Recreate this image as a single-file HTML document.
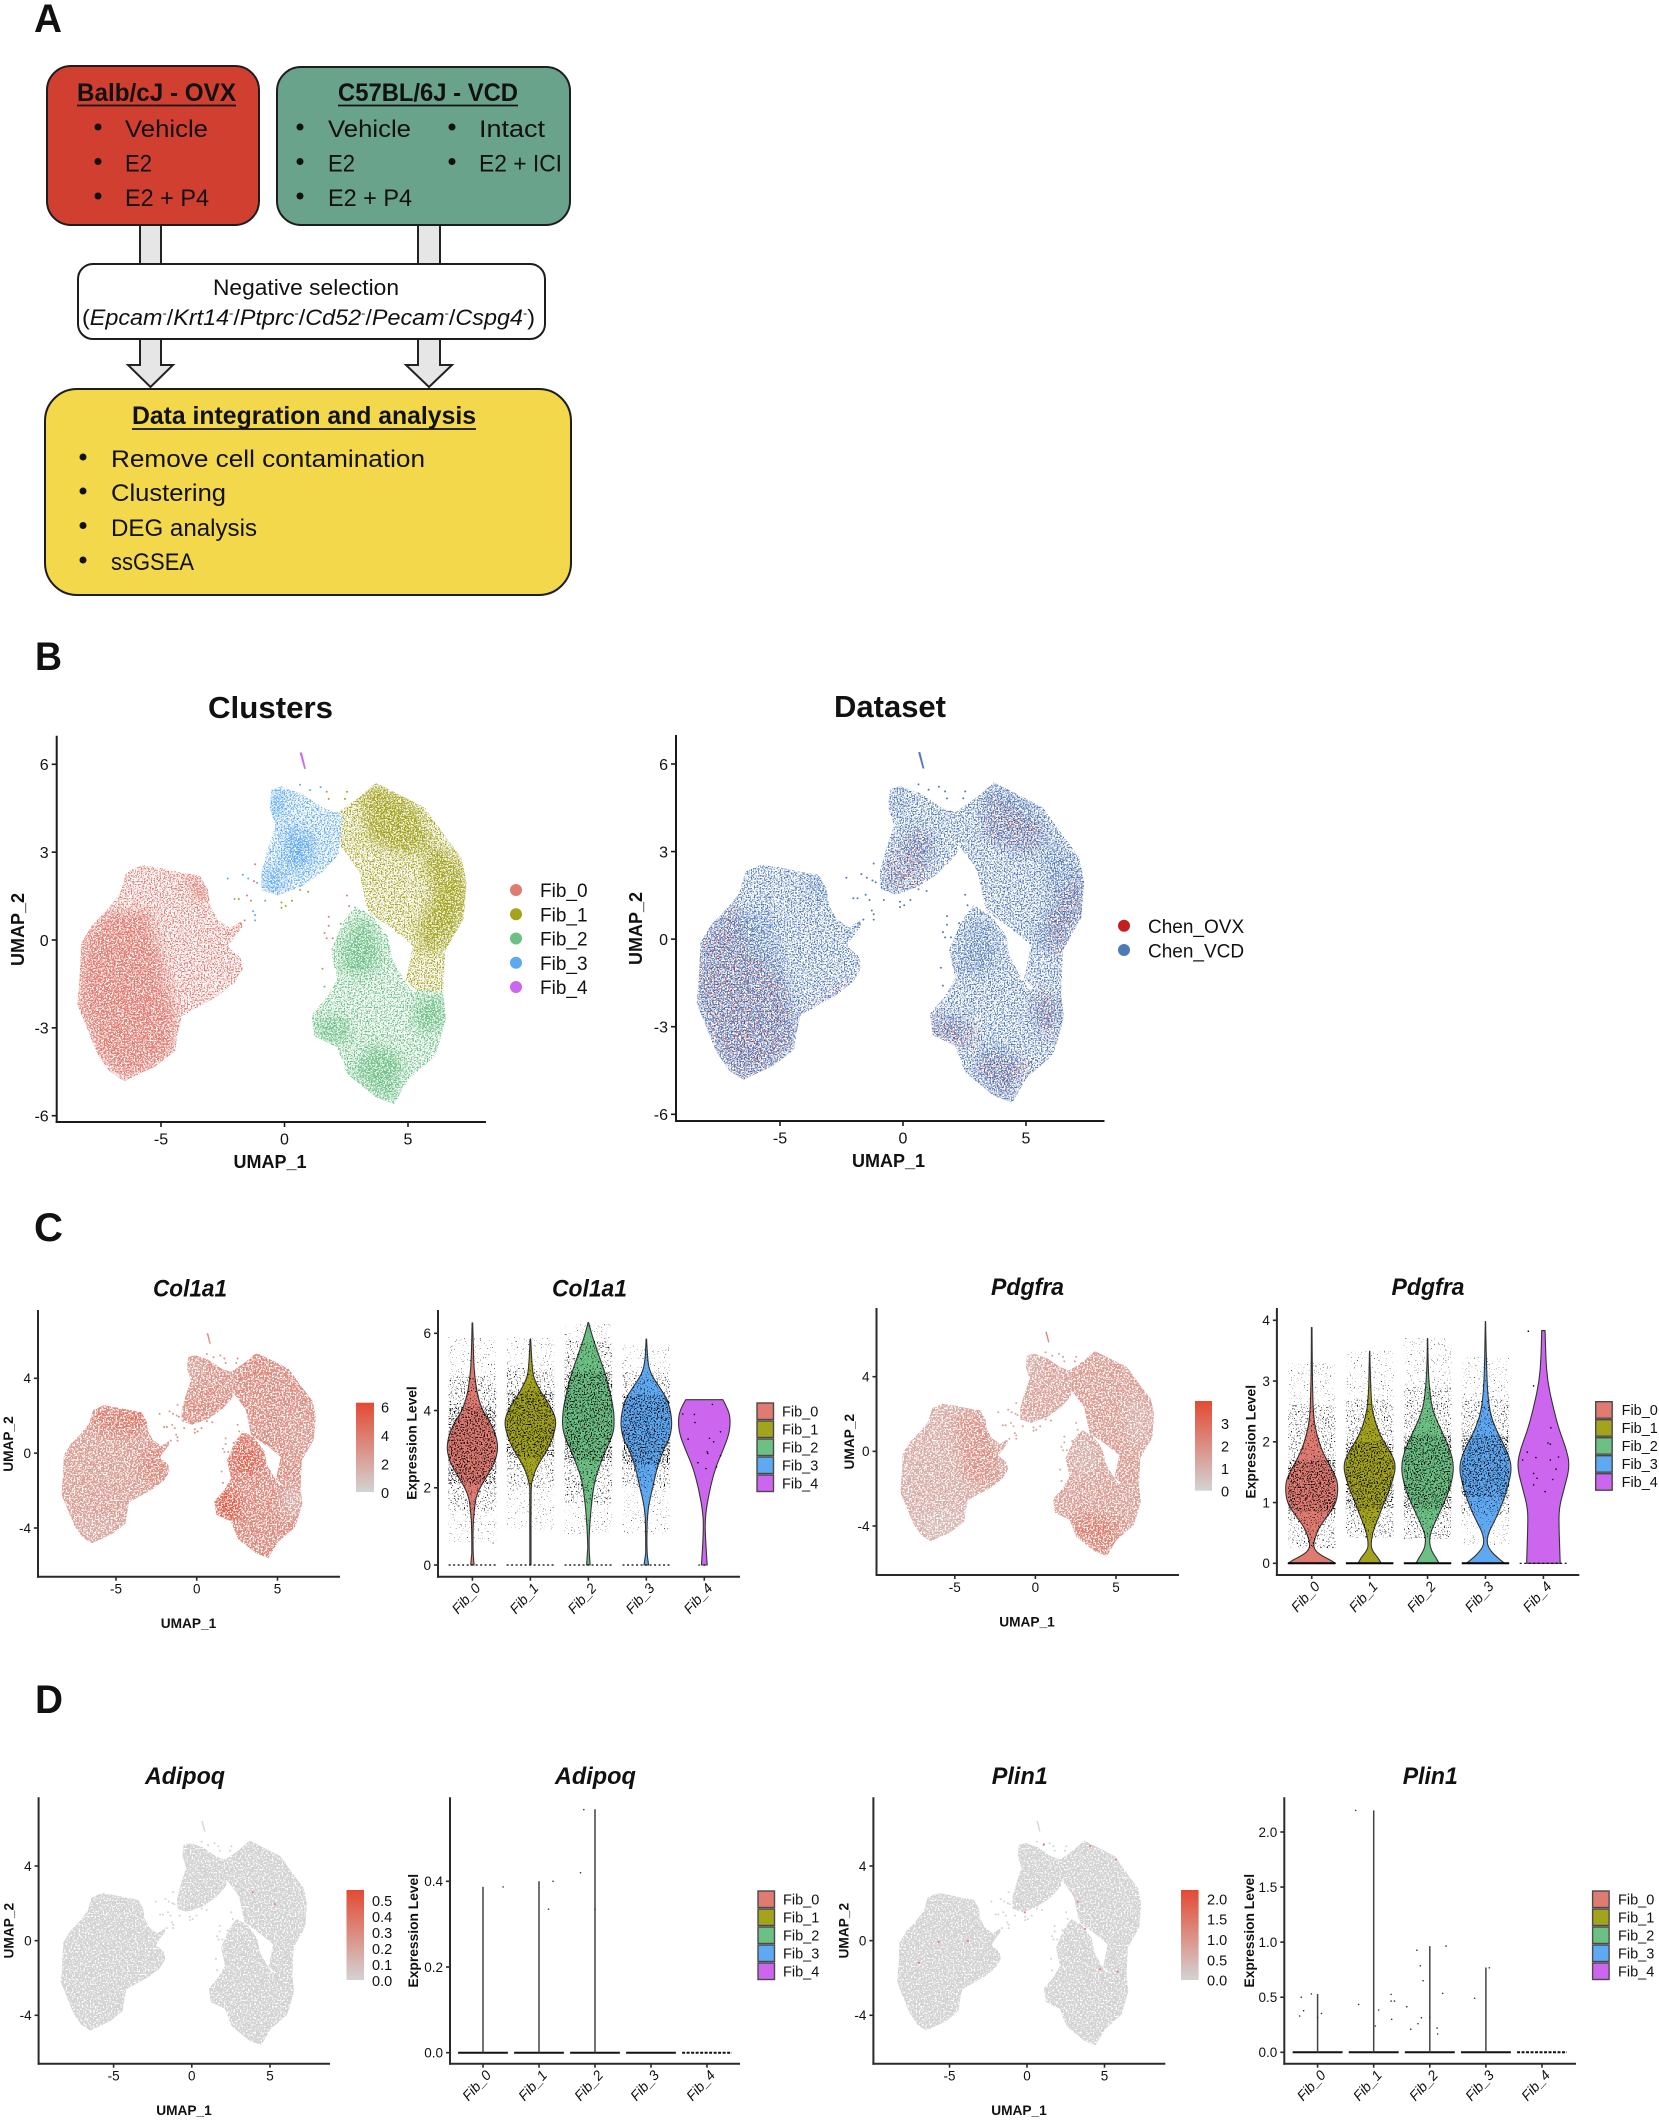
<!DOCTYPE html>
<html lang="en">
<head>
<meta charset="utf-8">
<title>Fibroblast single-cell analysis figure</title>
<style>
html,body{margin:0;padding:0;background:#fff;}
svg{display:block;font-family:"Liberation Sans",sans-serif;}
</style>
</head>
<body>
<svg id="figure" width="1659" height="2121" viewBox="0 0 1659 2121">
<defs>
<filter id="speck40" color-interpolation-filters="sRGB"><feTurbulence type="fractalNoise" baseFrequency="0.62" numOctaves="2" seed="4"/><feColorMatrix type="matrix" values="0 0 0 0 0 0 0 0 0 0 0 0 0 0 0 0 0 0 10 -4.0" result="m"/><feComposite in="SourceGraphic" in2="m" operator="in"/></filter>
<filter id="speck36" color-interpolation-filters="sRGB"><feTurbulence type="fractalNoise" baseFrequency="0.62" numOctaves="2" seed="11"/><feColorMatrix type="matrix" values="0 0 0 0 0 0 0 0 0 0 0 0 0 0 0 0 0 0 10 -3.6" result="m"/><feComposite in="SourceGraphic" in2="m" operator="in"/></filter>
<filter id="speck46" color-interpolation-filters="sRGB"><feTurbulence type="fractalNoise" baseFrequency="0.62" numOctaves="2" seed="7"/><feColorMatrix type="matrix" values="0 0 0 0 0 0 0 0 0 0 0 0 0 0 0 0 0 0 10 -4.6" result="m"/><feComposite in="SourceGraphic" in2="m" operator="in"/></filter>
<filter id="speck50" color-interpolation-filters="sRGB"><feTurbulence type="fractalNoise" baseFrequency="0.7" numOctaves="2" seed="2"/><feColorMatrix type="matrix" values="0 0 0 0 0 0 0 0 0 0 0 0 0 0 0 0 0 0 10 -5.0" result="m"/><feComposite in="SourceGraphic" in2="m" operator="in"/></filter>
<filter id="speck54" color-interpolation-filters="sRGB"><feTurbulence type="fractalNoise" baseFrequency="0.7" numOctaves="2" seed="6"/><feColorMatrix type="matrix" values="0 0 0 0 0 0 0 0 0 0 0 0 0 0 0 0 0 0 10 -5.4" result="m"/><feComposite in="SourceGraphic" in2="m" operator="in"/></filter>
<filter id="speck62" color-interpolation-filters="sRGB"><feTurbulence type="fractalNoise" baseFrequency="0.7" numOctaves="2" seed="9"/><feColorMatrix type="matrix" values="0 0 0 0 0 0 0 0 0 0 0 0 0 0 0 0 0 0 10 -6.2" result="m"/><feComposite in="SourceGraphic" in2="m" operator="in"/></filter>
<filter id="speck70" color-interpolation-filters="sRGB"><feTurbulence type="fractalNoise" baseFrequency="0.7" numOctaves="2" seed="15"/><feColorMatrix type="matrix" values="0 0 0 0 0 0 0 0 0 0 0 0 0 0 0 0 0 0 10 -7.0" result="m"/><feComposite in="SourceGraphic" in2="m" operator="in"/></filter>
<filter id="soft" x="-30%" y="-30%" width="160%" height="160%"><feGaussianBlur stdDeviation="6"/></filter>
<linearGradient id="bar-gradient" x1="0" y1="1" x2="0" y2="0"><stop offset="0" stop-color="#d3d3d3"/><stop offset="1" stop-color="#e34a33"/></linearGradient>
</defs>

<g font-family="'Liberation Sans',sans-serif" fill="#111">
  <text x="34" y="32" font-size="40" font-weight="700" textLength="28" lengthAdjust="spacingAndGlyphs">A</text>

  <g><rect x="140" y="225" width="21" height="39" fill="#e6e6e6" stroke="#222" stroke-width="2"/></g>
  <g><rect x="418" y="225" width="22" height="39" fill="#e6e6e6" stroke="#222" stroke-width="2"/></g>
  <polygon points="140,339 161,339 161,365 173,365 150.500,387 128,365 140,365" fill="#e6e6e6" stroke="#222" stroke-width="2"/>
  <polygon points="418,339 440,339 440,365 452,365 429,387 406,365 418,365" fill="#e6e6e6" stroke="#222" stroke-width="2"/>

  <rect x="47" y="66" width="212" height="159" rx="24" fill="#d13f31" stroke="#1d1d1d" stroke-width="2"/>
  <text x="77" y="101" font-size="25" font-weight="700" textLength="159" lengthAdjust="spacingAndGlyphs">Balb/cJ  - OVX</text>
  <line x1="77" x2="236" y1="105.500" y2="105.500" stroke="#111" stroke-width="1.700"/>
  <g font-size="24">
    <circle cx="98" cy="127" r="3.500"/><text x="125" y="137" textLength="83" lengthAdjust="spacingAndGlyphs">Vehicle</text>
    <circle cx="98" cy="161.500" r="3.500"/><text x="125" y="171.600" textLength="27" lengthAdjust="spacingAndGlyphs">E2</text>
    <circle cx="98" cy="196" r="3.500"/><text x="125" y="206" textLength="84" lengthAdjust="spacingAndGlyphs">E2 + P4</text>
  </g>

  <rect x="277" y="67" width="293" height="158" rx="24" fill="#6aa38c" stroke="#1d1d1d" stroke-width="2"/>
  <text x="338" y="101" font-size="25" font-weight="700" textLength="180" lengthAdjust="spacingAndGlyphs">C57BL/6J - VCD</text>
  <line x1="338" x2="518" y1="105.500" y2="105.500" stroke="#111" stroke-width="1.700"/>
  <g font-size="24">
    <circle cx="300" cy="127" r="3.500"/><text x="328" y="137" textLength="83" lengthAdjust="spacingAndGlyphs">Vehicle</text>
    <circle cx="300" cy="161.500" r="3.500"/><text x="328" y="171.600" textLength="27" lengthAdjust="spacingAndGlyphs">E2</text>
    <circle cx="300" cy="196" r="3.500"/><text x="328" y="206" textLength="84" lengthAdjust="spacingAndGlyphs">E2 + P4</text>
    <circle cx="452" cy="127" r="3.500"/><text x="479" y="137" textLength="66" lengthAdjust="spacingAndGlyphs">Intact</text>
    <circle cx="452" cy="161.500" r="3.500"/><text x="479" y="171.600" textLength="83" lengthAdjust="spacingAndGlyphs">E2 + ICI</text>
  </g>

  <rect x="78" y="264" width="467" height="75" rx="15" fill="#fff" stroke="#1d1d1d" stroke-width="2"/>
  <text x="213" y="295" font-size="22" textLength="186" lengthAdjust="spacingAndGlyphs">Negative selection</text>
  <text x="82" y="325" font-size="22" textLength="453" lengthAdjust="spacingAndGlyphs">(<tspan font-style="italic">Epcam</tspan><tspan font-size="12" dy="-8">-</tspan><tspan dy="8">/</tspan><tspan font-style="italic">Krt14</tspan><tspan font-size="12" dy="-8">-</tspan><tspan dy="8">/</tspan><tspan font-style="italic">Ptprc</tspan><tspan font-size="12" dy="-8">-</tspan><tspan dy="8">/</tspan><tspan font-style="italic">Cd52</tspan><tspan font-size="12" dy="-8">-</tspan><tspan dy="8">/</tspan><tspan font-style="italic">Pecam</tspan><tspan font-size="12" dy="-8">-</tspan><tspan dy="8">/</tspan><tspan font-style="italic">Cspg4</tspan><tspan font-size="12" dy="-8">-</tspan><tspan dy="8">)</tspan></text>

  <rect x="45" y="389" width="526" height="206" rx="32" fill="#f2d84a" stroke="#1d1d1d" stroke-width="2"/>
  <text x="132" y="424" font-size="25" font-weight="700" textLength="344" lengthAdjust="spacingAndGlyphs">Data integration and analysis</text>
  <line x1="132" x2="476" y1="429" y2="429" stroke="#111" stroke-width="1.700"/>
  <g font-size="24">
    <circle cx="83" cy="457" r="3.500"/><text x="111" y="467" textLength="314" lengthAdjust="spacingAndGlyphs">Remove cell contamination</text>
    <circle cx="83" cy="491" r="3.500"/><text x="111" y="501" textLength="115" lengthAdjust="spacingAndGlyphs">Clustering</text>
    <circle cx="83" cy="525.500" r="3.500"/><text x="111" y="536" textLength="146" lengthAdjust="spacingAndGlyphs">DEG analysis</text>
    <circle cx="83" cy="560" r="3.500"/><text x="111" y="570" textLength="83" lengthAdjust="spacingAndGlyphs">ssGSEA</text>
  </g>
</g>

<text x="35" y="670" font-size="40" font-weight="700" fill="#111" textLength="27" lengthAdjust="spacingAndGlyphs">B</text>
<text x="34" y="1241" font-size="40" font-weight="700" fill="#111" textLength="29" lengthAdjust="spacingAndGlyphs">C</text>
<text x="35" y="1713" font-size="40" font-weight="700" fill="#111" textLength="28" lengthAdjust="spacingAndGlyphs">D</text>
<g id="charts"></g>
</svg>

<script>
/* ---------- shared categories ---------- */
const clusterNames = ['Fib_0', 'Fib_1', 'Fib_2', 'Fib_3', 'Fib_4'];
const clusterColors = ['#e07b72', '#a3a31e', '#6cc084', '#5fa8f2', '#cd66ee'];
const datasetNames = ['Chen_OVX', 'Chen_VCD'];
const datasetColors = ['#c41e1e', '#5079b8'];

/* ---------- UMAP regions, in UMAP_1 / UMAP_2 units ---------- */
const fib0Outline = [[-6.41,2.32],[-5.75,2.56],[-4.92,2.44],[-4.25,2.32],[-3.43,2.2],[-3.1,1.71],[-3.01,1.16],[-2.7,0.7],[-2.2,0.4],[-1.75,0.65],[-1.7,0.45],[-2.2,-0.1],[-2.27,-0.24],[-1.77,-0.61],[-1.69,-0.98],[-2.02,-1.46],[-2.76,-1.95],[-3.43,-2.26],[-4.17,-2.62],[-4.34,-3.29],[-4.42,-3.78],[-5.25,-4.33],[-6.49,-4.82],[-7.07,-4.51],[-7.57,-3.9],[-7.98,-3.05],[-8.39,-2.2],[-8.31,-1.46],[-8.23,-0.12],[-7.81,0.49],[-7.24,0.98],[-6.66,1.59]];
const fib1Outline = [[2.4,4.5],[3.03,4.88],[3.69,5.37],[4.85,4.88],[5.68,4.52],[6.51,3.54],[7.17,2.8],[7.37,1.95],[7.25,0.73],[6.51,-0.37],[6.43,-1.9],[5.6,-1.9],[4.9,-1.4],[5.2,-0.2],[4.4,0.35],[3.36,0.98],[3.03,2.32],[2.53,2.93],[1.9,3.6],[2.0,4.3]];
const fib2Outline = [[2.86,1.16],[3.53,0.85],[4.19,0.12],[4.35,-0.61],[4.8,-1.3],[5.1,-1.7],[6.42,-1.77],[6.54,-2.68],[6.26,-3.54],[6.09,-3.97],[5.02,-4.76],[4.44,-5.61],[3.69,-5.37],[2.53,-4.57],[2.12,-3.66],[1.21,-3.29],[1.09,-2.56],[1.71,-1.95],[2.12,-1.34],[1.87,-0.37],[2.37,0.61]];
const fib3Outline = [[-0.53,5.13],[-0.12,5.25],[0.71,5.0],[1.54,4.52],[2.37,4.27],[2.28,3.66],[2.2,2.93],[1.54,2.32],[0.71,1.83],[-0.28,1.52],[-0.94,1.71],[-0.94,2.32],[-0.7,3.05],[-0.36,3.9],[-0.61,4.52]];
const fib4Outline = [[0.62,6.4],[0.7,6.4],[0.86,5.85],[0.8,5.85]];
const clusterOutlines = [fib0Outline, fib1Outline, fib2Outline, fib3Outline];

const fib0Dense = [[[-8.3,-1.5],[-8.1,0],[-7.3,0.9],[-5.5,1],[-5,-0.5],[-4.4,-2.5],[-4.5,-3.7],[-5.3,-4.3],[-6.5,-4.8],[-7.6,-3.8],[-8.3,-2.2]],[[-4,2.3],[-3.2,2],[-3.1,1.2],[-3.6,1.4]]];
const fib1Dense = [[[6.3,3.2],[7.3,2.4],[7.35,1],[6.5,-0.3],[5.5,-0.4],[5.4,0.3],[6,1.5],[5.6,3]],[[3.1,4.8],[3.7,5.3],[5,4.8],[5.6,4.2],[6,3.3],[5,2.9],[3.4,3.4]]];
const fib2Dense = [[[3,0.8],[3.6,0.4],[4,-0.6],[3.3,-1.3],[2.2,-1],[2.4,0]],[[5.2,-2],[6.5,-2],[6.4,-3],[5.4,-3.2]],[[3.5,-3.5],[4.8,-4],[4.5,-5.5],[3.6,-5.2],[2.7,-4.5]],[[1.2,-2.7],[2.5,-2.6],[2.7,-3.5],[1.4,-3.4]]];
const fib3Dense = [[[-0.5,5.1],[0,5],[0,4.4],[-0.5,4.2]],[[0,3.9],[1.2,3.6],[1.1,2.5],[0,2.4]],[[-0.8,2.3],[-0.1,2.5],[-0.1,1.6],[-0.8,1.8]]];
const clusterDense = [fib0Dense, fib1Dense, fib2Dense, fib3Dense];

const ovxRegions = [
  [[-8.36,-1.73],[-8.19,-0.02],[-7.53,0.66],[-6.7,1.46],[-6.53,-0.02],[-4.88,-1.39],[-4.38,-3.44],[-5.21,-4.36],[-6.53,-4.75],[-7.36,-4.01],[-7.94,-3.22]],
  [[7.31,2.37],[7.31,0.89],[6.4,-0.48],[6.07,-0.6],[5.74,0.2],[6.4,1.57]],
  [[1.26,-2.53],[3.08,-2.99],[3.08,-3.56],[1.76,-3.79],[1.09,-3.22]],
  [[-0.9,2.26],[0.43,3.74],[1.09,3.51],[0.76,1.69],[-0.23,1.69]],
  [[3.42,4.99],[5.9,3.74],[5.07,2.94],[3.42,3.51]],
  [[3.08,-3.9],[5.57,-4.24],[4.08,-5.38],[3.08,-4.58]],
  [[5.24,-1.62],[6.4,-2.08],[6.07,-3.67],[5.4,-2.76]],
  [[-4.2,-2.6],[-2.6,-1.6],[-2.1,-1.3],[-2.4,-1.9],[-3.6,-2.5]]
];

const strayU = [-2.3,-1.69,-1.47,-1.19,-1.11,-1.24,-2.02,-1.85,-1.52,-1.36,-0.78,-1.27,-1.19,-1.19,-1.61,-1.77,-1.94,-2.27,1.79,1.79,1.62,1.71,1.95,1.54,1.62,2.28,2.53,2.62,-0.12,0.05,-0.12,0.3,0.63,0.96,0.63,1.04,1.46,1.71,1.79,2.53,2.45];
const strayV = [2.1,2.23,2.1,2.59,1.95,2.01,1.4,1.4,1.52,1.34,1.34,0.98,0.85,0.67,0.67,0.55,0.43,0.24,0.79,0.49,0.24,0.06,0.06,-0.98,-1.59,0.55,1.52,1.16,1.28,1.16,1.1,1.34,1.71,1.65,5.3,5.12,5.22,5.06,4.82,5.06,4.82];
const strayCluster = [3,3,3,0,3,0,2,1,0,0,3,3,3,3,0,0,0,0,0,0,0,0,0,0,2,2,0,0,1,1,1,1,1,1,3,3,3,1,1,1,1];

/* ---------- feature plot expression estimates ---------- */
const col1a1Base = [2.5, 3.2, 3.4, 2.9];
const col1a1Patches = [
  {value: 4.0, region: [[-6.4,2.5],[-3.1,2.4],[-3,0.8],[-5,1],[-6.7,1.4]]},
  {value: 5.2, region: [[-4,2.5],[-3,2.2],[-3.2,1.6],[-4.2,1.9]]},
  {value: 1.8, region: [[-3.4,1.6],[-3,1.2],[-3.3,0.9]]},
  {value: 1.9, region: [[-7.5,-3.5],[-5,-3.5],[-4.4,-3.8],[-6.5,-4.8]]},
  {value: 3.6, region: [[-3.4,0.2],[-2,0.4],[-1.7,-1],[-2.8,-1.9],[-3.6,-1]]},
  {value: 2.0, region: [[-0.6,5.2],[0.5,5],[0.4,4],[-0.4,4]]},
  {value: 3.4, region: [[0,3.5],[1.5,3],[1,1.8],[-0.3,1.5],[-0.9,2]]},
  {value: 5.2, region: [[2.9,1.1],[3.8,0.2],[4,-1],[2.3,-1.3],[2.2,0]]},
  {value: 6.0, region: [[1.2,-2],[2.5,-2.2],[2.8,-3.5],[1.3,-3.4]]},
  {value: 1.5, region: [[5.2,-1.8],[6.5,-1.9],[6.3,-3.6],[5.5,-3.2]]},
  {value: 2.7, region: [[5.5,2.5],[7.3,2],[7.2,0.6],[6.2,-0.3],[5.3,0]]},
  {value: 3.7, region: [[3,4.8],[3.7,5.3],[5,4.6],[4,3.5]]}
];
const pdgfraBase = [1.1, 1.6, 1.5, 1.4];
const pdgfraPatches = [
  {value: 0.3, region: [[-0.6,5.2],[0,5.1],[-0.2,4],[-0.5,4.1]]},
  {value: 1.9, region: [[-5,2],[-3.1,2],[-2,-1],[-3,-2],[-4.5,-1.5]]},
  {value: 0.7, region: [[-7.5,-3.4],[-5,-3.2],[-4.5,-3.8],[-6.5,-4.9]]},
  {value: 2.5, region: [[2.2,-3.5],[5,-3.5],[5,-4.7],[4.4,-5.6],[2.5,-4.5]]},
  {value: 1.1, region: [[5.5,3],[7.3,2.5],[7.2,0.6],[6.5,0],[5.5,1]]},
  {value: 1.0, region: [[2.9,1.1],[3.8,0.2],[4,-1],[2.3,-1.3],[2.2,0]]}
];
const adipoqHitU = [3.9, 5.3];
const adipoqHitV = [2.59, 1.96];
const plin1HitU = [1.09, 4.08, 5.74, -0.14, 3.27, 3.75, -5.7, -3.82, -6.96, 4.72, 5.85];
const plin1HitV = [5.16, 5.07, 4.36, 1.52, 2.09, 0.63, -0.07, -0.02, -1.18, -1.53, -1.66];

/* ---------- violin shapes: expression level vs relative half width ---------- */
const col1a1Levels = [
  [0,0.3,1,1.4,1.85,2.3,2.7,3.1,3.6,4,4.45,4.9,5.3,6.27],
  [0,2,2.2,2.55,3,3.4,3.75,4.1,4.45,4.8,5.05,5.85],
  [0,0.47,1,1.68,2.2,2.63,3,3.4,3.75,4.18,4.87,5.3,5.9,6.28],
  [0,0.3,1,1.5,2,2.55,3,3.3,3.75,4.27,4.6,4.96,5.3,5.85],
  [0,0.47,1,1.42,2,2.55,3,3.4,3.75,4,4.28]
];
const col1a1Density = [
  [.03,.01,.01,.03,.07,.25,.40,.45,.35,.17,.08,.04,.02,.005],
  [.01,.01,.03,.11,.30,.41,.45,.35,.19,.07,.03,.005],
  [.03,.01,.02,.06,.11,.21,.31,.43,.45,.42,.31,.21,.07,.004],
  [.04,.01,.01,.03,.11,.19,.30,.41,.45,.37,.23,.07,.02,.004],
  [.05,.03,.01,.03,.10,.20,.33,.43,.45,.42,.32]
];
const col1a1Bands = [
  [[0.55,1.4,0],[1.4,2.1,1],[2.1,4.1,2],[4.1,4.9,1],[4.9,5.9,0]],
  [[0.9,2,0],[2,2.8,1],[2.8,4.5,2],[4.5,5.1,1],[5.1,5.9,0]],
  [[0.8,1.6,0],[1.6,2.7,1],[2.7,5,2],[5,5.8,1],[5.8,6.25,0]],
  [[0.8,2,0],[2,2.6,1],[2.6,4.4,2],[4.4,5,1],[5,5.7,0]],
  []
];
const col1a1Fib4Offset = [-.37,-.17,-.16,.14,.28,-.28,.09,.16,.05,.06,.28,-.11,.03,.21,-.09,0];
const col1a1Fib4Value = [3.91,3.9,3.69,4.16,3.45,3.26,3.28,3.19,2.93,2.89,2.83,2.65,2.5,2.54,0,0];

const pdgfraLevels = [
  [0,.05,.12,.2,.28,.4,.6,.8,1,1.3,1.5,1.8,2.1,2.4,3,3.88],
  [0,.1,.2,.3,.5,.7,1,1.3,1.6,1.8,2.1,2.4,2.7,3.49],
  [0,.1,.2,.35,.5,.7,1,1.3,1.6,1.9,2.2,2.5,2.8,3.2,3.7],
  [0,.1,.2,.33,.5,.7,1,1.3,1.6,1.9,2.2,2.5,3,3.98],
  [0,.3,.6,.9,1.2,1.6,1.9,2.2,2.6,3,3.4,3.83]
];
const pdgfraDensity = [
  [.41,.33,.18,.07,.03,.05,.13,.29,.43,.46,.38,.20,.09,.03,.01,.005],
  [.20,.14,.05,.02,.05,.13,.25,.38,.46,.38,.18,.07,.02,.003],
  [.20,.14,.07,.03,.05,.14,.29,.41,.46,.38,.23,.09,.04,.01,.003],
  [.33,.20,.09,.02,.05,.16,.30,.40,.46,.35,.18,.07,.02,.003],
  [.29,.28,.27,.27,.35,.46,.39,.27,.16,.07,.04,.03]
];
const pdgfraBands = [
  [[.25,.85,1],[.85,1.7,2],[1.7,2.6,1],[2.6,3.3,0]],
  [[.42,.9,1],[.9,2,2],[2,2.7,1],[2.7,3.5,0]],
  [[.4,.9,1],[.9,2.1,2],[2.1,2.9,1],[2.9,3.7,0]],
  [[.3,.8,0],[.8,1.1,1],[1.1,2.1,2],[2.1,2.7,1],[2.7,3.4,0]],
  []
];
const pdgfraFib4Offset = [-.26,-.17,.13,.08,.12,-.28,-.13,.26,.12,-.36,.22,-.17,.16,-.11,-.17,.03];
const pdgfraFib4Value = [3.82,2.92,2.23,1.98,1.96,1.83,1.74,1.75,1.7,1.7,1.55,1.48,1.38,1.4,1.29,1.18];

/* ---------- flat violins (almost all cells at zero) ---------- */
const adipoqMax = [0.387, 0.40, 0.568, 0, 0];
const adipoqPointCluster = [0, 1, 1, 2, 2, 2];
const adipoqPointOffset = [.36, .17, .25, -.20, -.26, 0];
const adipoqPointValue = [.387, .335, .40, .567, .42, .335];
const plin1Max = [0.53, 2.196, 0.964, 0.77, 0];
const plin1PointCluster = [0,0,0,0,0,0,1,1,1,1,1,1,1,1,2,2,2,2,2,2,2,2,2,2,2,2,3,3];
const plin1PointOffset = [-.29,-.11,-.25,-.32,.07,0,-.32,-.27,.03,.09,.31,.31,.37,.32,-.23,.29,-.17,-.12,.23,-.41,-.15,0,-.21,-.34,.13,.14,.06,-.2];
const plin1PointValue = [.50,.53,.378,.33,.353,.317,2.196,.435,.239,.384,.526,.465,.465,.30,.927,.964,.785,.65,.535,.414,.314,.317,.26,.21,.22,.166,.767,.49];

/* ---------- helpers ---------- */
const SVG_NS = 'http://www.w3.org/2000/svg';
const charts = document.getElementById('charts');

function linear(d0, p0, d1, p1) {
  return function (d) { return p0 + (d - d0) * (p1 - p0) / (d1 - d0); };
}
function add(parent, tag, attrs) {
  const el = document.createElementNS(SVG_NS, tag);
  for (const key in attrs) { el.setAttribute(key, attrs[key]); }
  parent.appendChild(el);
  return el;
}
function named(el, name) {
  
  
  return el;
}
function label(parent, name, str, attrs) {
  const el = add(parent, 'text', attrs);
  el.textContent = str;
  
  
  return el;
}
function points(pts, x, y) {
  return pts.map(function (p) { return x(p[0]).toFixed(1) + ',' + y(p[1]).toFixed(1); }).join(' ');
}
function mixColor(t) {
  const c = Math.max(0, Math.min(1, t));
  const r = Math.round(211 + (227 - 211) * c);
  const g = Math.round(211 + (74 - 211) * c);
  const b = Math.round(211 + (51 - 211) * c);
  return 'rgb(' + r + ',' + g + ',' + b + ')';
}

function drawAxes(g, cfg) {
  const axisColor = cfg.axisColor;
  named(add(g, 'line', {x1: cfg.left, x2: cfg.left, y1: cfg.top, y2: cfg.bottom + 1, stroke: axisColor, 'stroke-width': 2}), 'y-axis-line');
  named(add(g, 'line', {x1: cfg.left - 1, x2: cfg.right, y1: cfg.bottom, y2: cfg.bottom, stroke: axisColor, 'stroke-width': 2}), 'x-axis-line');
  cfg.yTicks.forEach(function (t) {
    const py = cfg.y(t);
    named(add(g, 'line', {x1: cfg.left - cfg.tickLen, x2: cfg.left, y1: py, y2: py, stroke: axisColor, 'stroke-width': 1.6}), 'y-tick');
    const txt = cfg.yFormat ? t.toFixed(cfg.yFormat) : String(t);
    label(g, 'y-tick-label', txt, {x: cfg.left - cfg.tickLen - 3, y: py + cfg.tickFont * 0.36, 'font-size': cfg.tickFont, 'text-anchor': 'end', fill: '#111'});
  });
}

function drawTitle(g, cfg) {
  const t = cfg.title;
  const attrs = {x: t.cx, y: t.base, 'font-size': t.size, 'font-weight': 700, 'text-anchor': 'middle', fill: '#111', textLength: t.len, lengthAdjust: 'spacingAndGlyphs'};
  if (cfg.italicTitle) { attrs['font-style'] = 'italic'; }
  label(g, 'plot-title', t.text, attrs);
}

function drawUmapFrame(g, cfg) {
  drawAxes(g, cfg);
  cfg.xTicks.forEach(function (t) {
    const px = cfg.x(t);
    named(add(g, 'line', {x1: px, x2: px, y1: cfg.bottom, y2: cfg.bottom + cfg.tickLen, stroke: cfg.axisColor, 'stroke-width': 1.6}), 'x-tick');
    label(g, 'x-tick-label', String(t), {x: px, y: cfg.bottom + cfg.xLabelGap, 'font-size': cfg.tickFont, 'text-anchor': 'middle', fill: '#111'});
  });
  label(g, 'x-axis-title', 'UMAP_1', {x: cfg.xTitle.cx, y: cfg.xTitle.base, 'font-size': cfg.xTitle.size, 'font-weight': 700, 'text-anchor': 'middle', fill: '#111'});
  label(g, 'y-axis-title', 'UMAP_2', {x: 0, y: 0, transform: 'translate(' + cfg.yTitle.bx + ',' + cfg.yTitle.cy + ') rotate(-90)', 'font-size': cfg.xTitle.size, 'font-weight': 700, 'text-anchor': 'middle', fill: '#111'});
  drawTitle(g, cfg);
}

function addClip(g, cfg, id) {
  const clip = add(g, 'clipPath', {id: id});
  clusterOutlines.forEach(function (o) {
    add(clip, 'polygon', {points: points(o, cfg.x, cfg.y)});
  });
  return 'url(#' + id + ')';
}

function drawStrays(g, cfg, colorFor, radius) {
  strayU.forEach(function (u, i) {
    const dot = add(g, 'circle', {cx: cfg.x(u).toFixed(1), cy: cfg.y(strayV[i]).toFixed(1), r: radius, fill: colorFor(strayCluster[i])});
    
    
  });
}

function drawFib4(g, cfg, fill) {
  const thin = add(g, 'polygon', {points: points(fib4Outline, cfg.x, cfg.y), fill: fill, stroke: fill, 'stroke-width': 0.3});
  
  
}

/* ---------- panel B: clusters ---------- */
function drawClusters(cfg) {
  const g = named(add(charts, 'g', {}), cfg.name);
  drawUmapFrame(g, cfg);
  const clipUrl = addClip(g, cfg, cfg.name + '-clip');
  const clipped = named(add(g, 'g', {'clip-path': clipUrl}), 'cluster-cells');
  const base = named(add(clipped, 'g', {filter: 'url(#speck50)'}), 'cluster-base-cells');
  clusterOutlines.forEach(function (o, i) {
    const shape = add(base, 'polygon', {points: points(o, cfg.x, cfg.y), fill: clusterColors[i]});
    
    
  });
  const speck = named(add(clipped, 'g', {filter: 'url(#speck46)'}), 'cluster-dense-cells');
  const dense = named(add(speck, 'g', {filter: 'url(#soft)'}), 'cluster-dense-soft');
  clusterDense.forEach(function (list, i) {
    list.forEach(function (o) {
      const shape = add(dense, 'polygon', {points: points(o, cfg.x, cfg.y), fill: clusterColors[i]});
      
      
    });
  });
  drawStrays(g, cfg, function (c) { return clusterColors[c]; }, 1);
  drawFib4(g, cfg, clusterColors[4]);
  const legend = named(add(g, 'g', {}), 'cluster-legend');
  clusterNames.forEach(function (n, i) {
    const py = 890 + i * 24.25;
    const dot = add(legend, 'circle', {cx: 516, cy: py, r: 6, fill: clusterColors[i]});
    
    
    label(legend, 'legend-entry', n, {x: 540, y: py + 7, 'font-size': 19, fill: '#111'});
  });
}

/* ---------- panel B: dataset ---------- */
function drawDataset(cfg) {
  const g = named(add(charts, 'g', {}), cfg.name);
  drawUmapFrame(g, cfg);
  const clipUrl = addClip(g, cfg, cfg.name + '-clip');
  const clipped = named(add(g, 'g', {'clip-path': clipUrl}), 'dataset-cells');
  const base = named(add(clipped, 'g', {filter: 'url(#speck50)'}), 'vcd-base-cells');
  clusterOutlines.forEach(function (o) {
    const shape = add(base, 'polygon', {points: points(o, cfg.x, cfg.y), fill: datasetColors[1]});
    
    
  });
  const speck = named(add(clipped, 'g', {filter: 'url(#speck54)'}), 'vcd-dense-cells');
  const dense = named(add(speck, 'g', {filter: 'url(#soft)'}), 'vcd-dense-soft');
  clusterDense.forEach(function (list) {
    list.forEach(function (o) {
      const shape = add(dense, 'polygon', {points: points(o, cfg.x, cfg.y), fill: datasetColors[1]});
      
      
    });
  });
  const red = named(add(clipped, 'g', {filter: 'url(#speck62)'}), 'ovx-cells');
  const redSoft = named(add(red, 'g', {filter: 'url(#soft)'}), 'ovx-soft');
  ovxRegions.forEach(function (o) {
    const shape = add(redSoft, 'polygon', {points: points(o, cfg.x, cfg.y), fill: datasetColors[0]});
    
    
  });
  drawStrays(g, cfg, function () { return datasetColors[1]; }, 1);
  drawFib4(g, cfg, datasetColors[1]);
  const legend = named(add(g, 'g', {}), 'dataset-legend');
  datasetNames.forEach(function (n, i) {
    const py = 925.7 + i * 24.3;
    const dot = add(legend, 'circle', {cx: 1124, cy: py, r: 6, fill: datasetColors[i]});
    
    
    label(legend, 'legend-entry', n, {x: 1148, y: py + 7.5, 'font-size': 19, fill: '#111'});
  });
}

/* ---------- feature plots ---------- */
function drawColorbar(g, cfg) {
  const b = cfg.bar;
  named(add(g, 'rect', {x: b.x, y: b.top, width: b.w, height: b.bottom - b.top, fill: 'url(#bar-gradient)'}), 'colorbar');
  const scale = linear(b.d0, b.p0, b.d1, b.p1);
  b.ticks.forEach(function (t) {
    label(g, 'colorbar-label', t.toFixed(b.digits), {x: b.labelX, y: scale(t) + 5, 'font-size': 14.5, fill: '#111'});
  });
}
function drawFeature(cfg) {
  const g = named(add(charts, 'g', {}), cfg.name);
  drawUmapFrame(g, cfg);
  const clipUrl = addClip(g, cfg, cfg.name + '-clip');
  const color = function (v) { return cfg.max ? mixColor(v / cfg.max) : '#d3d3d3'; };
  const cells = named(add(g, 'g', {'clip-path': clipUrl}), 'feature-cells');
  const speck = named(add(cells, 'g', {filter: 'url(' + cfg.speck + ')'}), 'feature-speckle');
  clusterOutlines.forEach(function (o, i) {
    const shape = add(speck, 'polygon', {points: points(o, cfg.x, cfg.y), fill: color(cfg.base[i])});
    
    
  });
  const soft = named(add(speck, 'g', {filter: 'url(#soft)'}), 'feature-patches');
  cfg.patches.forEach(function (p) {
    const shape = add(soft, 'polygon', {points: points(p.region, cfg.x, cfg.y), fill: color(p.value)});
    
    
  });
  drawStrays(g, cfg, function (c) { return color(cfg.base[Math.min(c, 3)]); }, 1);
  drawFib4(g, cfg, color(cfg.fib4));
  cfg.hitU.forEach(function (u, i) {
    const dot = add(g, 'circle', {cx: cfg.x(u).toFixed(1), cy: cfg.y(cfg.hitV[i]).toFixed(1), r: 1.1, fill: '#e8826f'});
    
    
  });
  drawColorbar(g, cfg);
}

/* ---------- violin plots ---------- */
function violinPath(cfg, i, levels, density) {
  const cx = cfg.cat(i);
  const hw = function (d) { return d * cfg.step; };
  const left = levels.map(function (v, k) { return [cx - hw(density[k]), cfg.y(v)]; });
  const right = levels.map(function (v, k) { return [cx + hw(density[k]), cfg.y(v)]; }).reverse();
  const pts = left.concat(right);
  let d = 'M' + pts[0][0].toFixed(1) + ' ' + pts[0][1].toFixed(1);
  const n = levels.length;
  for (let k = 1; k < pts.length; k++) {
    if (k === n || k === pts.length - 1 || k === 1 || k === n - 1) {
      d += ' L' + pts[k][0].toFixed(1) + ' ' + pts[k][1].toFixed(1);
    } else {
      const mx = (pts[k][0] + pts[k + 1][0]) / 2;
      const my = (pts[k][1] + pts[k + 1][1]) / 2;
      d += ' Q' + pts[k][0].toFixed(1) + ' ' + pts[k][1].toFixed(1) + ' ' + mx.toFixed(1) + ' ' + my.toFixed(1);
    }
  }
  return d + ' Z';
}
function drawViolinFrame(g, cfg) {
  drawAxes(g, cfg);
  clusterNames.forEach(function (n, i) {
    const px = cfg.cat(i);
    named(add(g, 'line', {x1: px, x2: px, y1: cfg.bottom, y2: cfg.bottom + cfg.tickLen, stroke: cfg.axisColor, 'stroke-width': 1.6}), 'x-tick');
    const ax = px + 9;
    const ay = cfg.bottom + 12;
    label(g, 'x-tick-label', n, {x: ax, y: ay, transform: 'rotate(-48 ' + ax + ' ' + ay + ')', 'font-size': 14, 'font-style': 'italic', 'text-anchor': 'end', fill: '#111'});
  });
  label(g, 'y-axis-title', 'Expression Level', {x: 0, y: 0, transform: 'translate(' + cfg.yTitle.bx + ',' + cfg.yTitle.cy + ') rotate(-90)', 'font-size': 13.8, 'font-weight': 700, 'text-anchor': 'middle', fill: '#111'});
  drawTitle(g, cfg);
  const legend = named(add(g, 'g', {}), 'violin-legend');
  clusterNames.forEach(function (n, i) {
    const py = cfg.legend.top + i * 18;
    const box = add(legend, 'rect', {x: cfg.legend.x, y: py, width: 16.5, height: 16.5, fill: clusterColors[i], stroke: '#4a4a4a', 'stroke-width': 1.4});
    
    
    label(legend, 'legend-entry', n, {x: cfg.legend.labelX, y: py + 13.5, 'font-size': 14.5, fill: '#111'});
  });
}
function drawViolin(cfg) {
  const g = named(add(charts, 'g', {}), cfg.name);
  drawViolinFrame(g, cfg);
  const marks = named(add(g, 'g', {}), 'violins');
  clusterNames.forEach(function (n, i) {
    const shape = add(marks, 'path', {d: violinPath(cfg, i, cfg.levels[i], cfg.density[i]), fill: clusterColors[i], stroke: '#333', 'stroke-width': 1.1, 'stroke-linejoin': 'round'});
    
    
  });
  const filters = ['url(#speck70)', 'url(#speck62)', 'url(#speck54)'];
  filters.forEach(function (f, level) {
    const cloud = named(add(g, 'g', {filter: f}), 'jitter-cloud');
    cfg.bands.forEach(function (list, i) {
      list.forEach(function (b) {
        if (b[2] !== level) { return; }
        const top = cfg.y(b[1]);
        const bottom = cfg.y(b[0]);
        const rect = add(cloud, 'rect', {x: (cfg.cat(i) - 0.41 * cfg.step).toFixed(1), y: top.toFixed(1), width: (0.82 * cfg.step).toFixed(1), height: (bottom - top).toFixed(1), fill: '#000'});
        
        
      });
    });
  });
  const zero = named(add(g, 'g', {}), 'zero-cells');
  clusterNames.forEach(function (n, i) {
    const style = cfg.zero[i];
    if (!style) { return; }
    const line = add(zero, 'line', {x1: cfg.cat(i) - 0.41 * cfg.step, x2: cfg.cat(i) + 0.41 * cfg.step, y1: cfg.y(0), y2: cfg.y(0), stroke: '#000', 'stroke-width': style === 'solid' ? 2 : 1.2, 'stroke-dasharray': style === 'solid' ? 'none' : '2 2.5'});
    
    
  });
  cfg.fib4Offset.forEach(function (off, k) {
    const dot = add(g, 'circle', {cx: (cfg.cat(4) + off * cfg.step).toFixed(1), cy: cfg.y(cfg.fib4Value[k]).toFixed(1), r: 0.8, fill: '#000'});
    
    
  });
}
function drawFlatViolin(cfg) {
  const g = named(add(charts, 'g', {}), cfg.name);
  drawViolinFrame(g, cfg);
  cfg.maxima.forEach(function (m, i) {
    const cx = cfg.cat(i);
    const base = add(g, 'line', {x1: cx - 0.445 * cfg.step, x2: cx + 0.445 * cfg.step, y1: cfg.y(0), y2: cfg.y(0), stroke: '#111', 'stroke-width': 2, 'stroke-dasharray': i === 4 ? '3 1.5' : 'none'});
    
    
    if (m > 0) {
      const spike = add(g, 'line', {x1: cx, x2: cx, y1: cfg.y(0), y2: cfg.y(m), stroke: '#444', 'stroke-width': 1.5});
      
      
    }
  });
  cfg.pointValue.forEach(function (v, k) {
    const dot = add(g, 'circle', {cx: (cfg.cat(cfg.pointCluster[k]) + cfg.pointOffset[k] * cfg.step).toFixed(1), cy: cfg.y(v).toFixed(1), r: 0.8, fill: '#333'});
    
    
  });
}

/* ---------- panels ---------- */
const bFrame = {axisColor: '#1a1a1a', tickLen: 5, tickFont: 16, xLabelGap: 22.6, xTicks: [-5, 0, 5], yTicks: [-6, -3, 0, 3, 6]};
drawClusters(Object.assign({}, bFrame, {
  name: 'clusters-umap', left: 56.7, right: 486, top: 735.7, bottom: 1122,
  x: linear(-5, 161, 5, 408), y: linear(-6, 1115.7, 6, 764.3),
  title: {text: 'Clusters', cx: 270.5, base: 718, size: 31, len: 125},
  xTitle: {cx: 270, base: 1168, size: 18}, yTitle: {bx: 24, cy: 929.5}
}));
drawDataset(Object.assign({}, bFrame, {
  name: 'dataset-umap', left: 676, right: 1104.5, top: 735, bottom: 1121,
  x: linear(-5, 780, 5, 1026), y: linear(-6, 1114.3, 6, 764),
  title: {text: 'Dataset', cx: 890, base: 717, size: 31, len: 112},
  xTitle: {cx: 888.5, base: 1167, size: 18}, yTitle: {bx: 642, cy: 928.5}
}));

const featureFrame = {axisColor: '#2a2a2a', tickLen: 4, tickFont: 13.5, xLabelGap: 17, xTicks: [-5, 0, 5], yTicks: [-4, 0, 4], italicTitle: true};
const violinFrame = {axisColor: '#2a2a2a', tickLen: 4, tickFont: 13.5, italicTitle: true};

drawFeature(Object.assign({}, featureFrame, {
  name: 'col1a1-feature-plot', left: 38, right: 340, top: 1310, bottom: 1576.7,
  x: linear(-5, 116, 5, 277.5), y: linear(-4, 1528, 4, 1378.3),
  title: {text: 'Col1a1', cx: 190, base: 1296.7, size: 24, len: 74},
  xTitle: {cx: 188.5, base: 1628, size: 13.7}, yTitle: {bx: 13, cy: 1444},
  max: 6.3, base: col1a1Base, fib4: 3.5, patches: col1a1Patches, hitU: [], hitV: [], speck: '#speck40',
  bar: {x: 356, w: 18, top: 1402.7, bottom: 1492, labelX: 381, d0: 0, p0: 1493, d1: 6, p1: 1407.7, ticks: [0, 2, 4, 6], digits: 0}
}));
drawViolin(Object.assign({}, violinFrame, {
  name: 'col1a1-violin-plot', left: 438, right: 740, top: 1310, bottom: 1576.7,
  cat: linear(0, 472.4, 4, 704.3), step: 58, y: linear(0, 1565, 6, 1333.3), yTicks: [0, 2, 4, 6],
  title: {text: 'Col1a1', cx: 589.5, base: 1296.7, size: 24, len: 75}, yTitle: {bx: 416.7, cy: 1443},
  levels: col1a1Levels, density: col1a1Density, bands: col1a1Bands, zero: ['dash', 'dash', 'dash', 'dash', null],
  fib4Offset: col1a1Fib4Offset, fib4Value: col1a1Fib4Value,
  legend: {x: 757, labelX: 782, top: 1403}
}));
drawFeature(Object.assign({}, featureFrame, {
  name: 'pdgfra-feature-plot', left: 876.5, right: 1179, top: 1308, bottom: 1575,
  x: linear(-5, 954.8, 5, 1116), y: linear(-4, 1526, 4, 1376.7),
  title: {text: 'Pdgfra', cx: 1027.5, base: 1295, size: 24, len: 73},
  xTitle: {cx: 1027, base: 1626.7, size: 13.7}, yTitle: {bx: 853.8, cy: 1441.7},
  max: 3.9, base: pdgfraBase, fib4: 2.2, patches: pdgfraPatches, hitU: [], hitV: [], speck: '#speck40',
  bar: {x: 1195, w: 17, top: 1401, bottom: 1490.7, labelX: 1221, d0: 0, p0: 1491.7, d1: 3, p1: 1424, ticks: [0, 1, 2, 3], digits: 0}
}));
drawViolin(Object.assign({}, violinFrame, {
  name: 'pdgfra-violin-plot', left: 1276.9, right: 1579.3, top: 1308, bottom: 1575,
  cat: linear(0, 1311.7, 4, 1543.4), step: 57.9, y: linear(0, 1563.3, 4, 1320.3), yTicks: [0, 1, 2, 3, 4],
  title: {text: 'Pdgfra', cx: 1428, base: 1295, size: 24, len: 73}, yTitle: {bx: 1255.7, cy: 1441.7},
  levels: pdgfraLevels, density: pdgfraDensity, bands: pdgfraBands, zero: ['solid', 'solid', 'solid', 'solid', 'dash'],
  fib4Offset: pdgfraFib4Offset, fib4Value: pdgfraFib4Value,
  legend: {x: 1595.7, labelX: 1621.6, top: 1401.7}
}));

drawFeature(Object.assign({}, featureFrame, {
  name: 'adipoq-feature-plot', left: 38.6, right: 330, top: 1797.3, bottom: 2063.7,
  x: linear(-5, 113.6, 5, 270), y: linear(-4, 2015.3, 4, 1866),
  title: {text: 'Adipoq', cx: 185, base: 1784, size: 24, len: 80},
  xTitle: {cx: 184, base: 2115, size: 13.7}, yTitle: {bx: 13.4, cy: 1930.7},
  max: 0, base: [0, 0, 0, 0], fib4: 0, patches: [], hitU: adipoqHitU, hitV: adipoqHitV, speck: '#speck36',
  bar: {x: 346.5, w: 17.5, top: 1890, bottom: 1980, labelX: 372, d0: 0, p0: 1981, d1: 0.5, p1: 1901, ticks: [0, 0.1, 0.2, 0.3, 0.4, 0.5], digits: 1}
}));
drawFlatViolin(Object.assign({}, violinFrame, {
  name: 'adipoq-violin-plot', left: 450, right: 740, top: 1797.3, bottom: 2063.7,
  cat: linear(0, 483, 4, 707), step: 55.9, y: linear(0, 2052.7, 0.4, 1881.3), yTicks: [0, 0.2, 0.4], yFormat: 1,
  title: {text: 'Adipoq', cx: 595.4, base: 1784, size: 24, len: 81}, yTitle: {bx: 417.8, cy: 1930.7},
  maxima: adipoqMax, pointCluster: adipoqPointCluster, pointOffset: adipoqPointOffset, pointValue: adipoqPointValue,
  legend: {x: 758, labelX: 783, top: 1891}
}));
drawFeature(Object.assign({}, featureFrame, {
  name: 'plin1-feature-plot', left: 873.4, right: 1165.3, top: 1797.3, bottom: 2063.7,
  x: linear(-5, 949.5, 5, 1104.5), y: linear(-4, 2015.3, 4, 1866),
  title: {text: 'Plin1', cx: 1019.8, base: 1784, size: 24, len: 56},
  xTitle: {cx: 1019, base: 2115, size: 13.7}, yTitle: {bx: 848.5, cy: 1930.7},
  max: 0, base: [0, 0, 0, 0], fib4: 0, patches: [], hitU: plin1HitU, hitV: plin1HitV, speck: '#speck36',
  bar: {x: 1181, w: 17.6, top: 1890, bottom: 1980, labelX: 1207, d0: 0, p0: 1980.7, d1: 2, p1: 1899.3, ticks: [0, 0.5, 1, 1.5, 2], digits: 1}
}));
drawFlatViolin(Object.assign({}, violinFrame, {
  name: 'plin1-violin-plot', left: 1284.3, right: 1576, top: 1797.3, bottom: 2063.7,
  cat: linear(0, 1317.6, 4, 1542), step: 56.1, y: linear(0, 2052.3, 2, 1832), yTicks: [0, 0.5, 1, 1.5, 2], yFormat: 1,
  title: {text: 'Plin1', cx: 1430.3, base: 1784, size: 24, len: 55}, yTitle: {bx: 1254, cy: 1930.7},
  maxima: plin1Max, pointCluster: plin1PointCluster, pointOffset: plin1PointOffset, pointValue: plin1PointValue,
  legend: {x: 1592.6, labelX: 1618, top: 1891}
}));
</script>
</body>
</html>
